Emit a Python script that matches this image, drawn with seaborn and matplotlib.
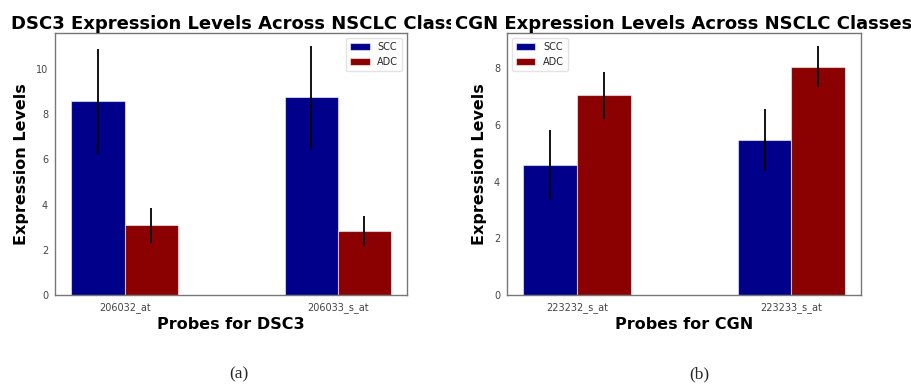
import matplotlib
matplotlib.use("Agg")
import matplotlib.pyplot as plt
import pandas as pd
import seaborn as sns
from matplotlib.transforms import Bbox

# valeurs
classes = ["SCC", "ADC"]
dsc3_probes = ["206032_at", "206033_s_at"]
dsc3_scc = [8.57, 8.75]
dsc3_adc = [3.08, 2.84]
dsc3_scc_err = [2.34, 2.29]
dsc3_adc_err = [0.77, 0.67]

cgn_probes = ["223232_s_at", "223233_s_at"]
cgn_scc = [4.60, 5.48]
cgn_adc = [7.05, 8.06]
cgn_scc_err = [1.24, 1.10]
cgn_adc_err = [0.82, 0.73]

palette = {"SCC": "#00008b", "ADC": "#8b0000"}


def make_df(probes, scc, adc):
    rows = []
    for probe, s, a in zip(probes, scc, adc):
        rows.append({"probe": probe, "class": "SCC", "value": s})
        rows.append({"probe": probe, "class": "ADC", "value": a})
    return pd.DataFrame(rows)


def draw_panel(ax, df, errs, title, xlabel, ylim, legend_loc, title_x):
    sns.barplot(
        data=df, x="probe", y="value", hue="class", hue_order=classes,
        palette=palette, width=0.5, errorbar=None, ax=ax,
        edgecolor=(1, 1, 1, 0.55), linewidth=0.8, saturation=1,
    )
    for container, err in zip(ax.containers, errs):
        for bar, e in zip(container, err):
            ax.errorbar(
                bar.get_x() + bar.get_width() / 2, bar.get_height(), yerr=e,
                fmt="none", ecolor="black", elinewidth=1.3, capsize=0,
            )
    ax.set_xlim(-0.327, 1.325)
    ax.set_ylim(*ylim)
    t = ax.set_title(title, fontsize=13, fontweight="bold", pad=3, x=title_x,
                     color="black")
    ax.set_xlabel(xlabel, fontsize=11.5, fontweight="bold", labelpad=3, color="black")
    ax.set_ylabel("Expression Levels", fontsize=11.5, fontweight="bold", labelpad=5,
                  color="black")
    ax.tick_params(labelsize=7, length=3, pad=2, colors="#444444", color="#666666")
    for spine in ax.spines.values():
        spine.set_visible(True)
        spine.set_color("#777777")
        spine.set_linewidth(1.0)
    ax.legend(loc=legend_loc, fontsize=7, frameon=True, fancybox=True,
              framealpha=0.8, edgecolor="#dddddd")
    return t


sns.set_style("white")
fig = plt.figure(figsize=(9.11, 3.92), dpi=100)
ax1 = fig.add_axes([0.0604, 0.2474, 0.3864, 0.6684])
ax2 = fig.add_axes([0.5565, 0.2474, 0.3886, 0.6684])

t1 = draw_panel(
    ax1, make_df(dsc3_probes, dsc3_scc, dsc3_adc), [dsc3_scc_err, dsc3_adc_err],
    "DSC3 Expression Levels Across NSCLC Classes", "Probes for DSC3",
    (0, 11.6), "upper right", 0.54,
)
draw_panel(
    ax2, make_df(cgn_probes, cgn_scc, cgn_adc), [cgn_scc_err, cgn_adc_err],
    "CGN Expression Levels Across NSCLC Classes", "Probes for CGN",
    (0, 9.25), "upper left", 0.5,
)

# le titre de gauche est coupe par l'image de droite
t1.set_clip_box(Bbox.from_extents(0, 0, 451, 392))
t1.set_clip_on(True)

fig.text(0.262, 0.035, "(a)", fontsize=12.5, family="Liberation Serif", ha="center")
fig.text(0.768, 0.035, "(b)", fontsize=12.5, family="Liberation Serif", ha="center")

fig.savefig("out.png", dpi=100)
